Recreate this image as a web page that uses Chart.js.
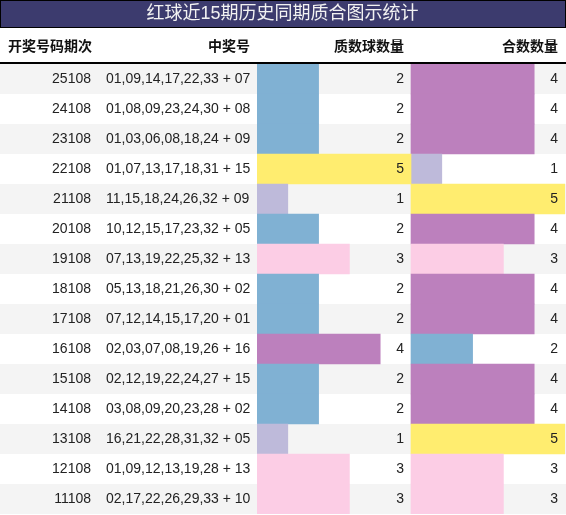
<!DOCTYPE html>
<html>
<head>
<meta charset="utf-8">
<script src="https://cdn.jsdelivr.net/npm/chart.js@4/dist/chart.umd.min.js"></script>
<style>
  html, body { margin: 0; padding: 0; background: #ffffff; }
  #wrap { width: 566px; height: 515px; position: relative; }
</style>
</head>
<body>
<div id="wrap"><canvas id="c"></canvas></div>
<script>
const titleText = '红球近15期历史同期质合图示统计';
const headers = ['开奖号码期次', '中奖号', '质数球数量', '合数数量'];
const periods = ['25108','24108','23108','22108','21108','20108','19108','18108','17108','16108','15108','14108','13108','12108','11108'];
const draws = [
  '01,09,14,17,22,33 + 07',
  '01,08,09,23,24,30 + 08',
  '01,03,06,08,18,24 + 09',
  '01,07,13,17,18,31 + 15',
  '11,15,18,24,26,32 + 09',
  '10,12,15,17,23,32 + 05',
  '07,13,19,22,25,32 + 13',
  '05,13,18,21,26,30 + 02',
  '07,12,14,15,17,20 + 01',
  '02,03,07,08,19,26 + 16',
  '02,12,19,22,24,27 + 15',
  '03,08,09,20,23,28 + 02',
  '16,21,22,28,31,32 + 05',
  '01,09,12,13,19,28 + 13',
  '02,17,22,26,29,33 + 10'
];
const primeCounts = [2,2,2,5,1,2,3,2,2,4,2,2,1,3,3];
const compositeCounts = [4,4,4,1,5,4,3,4,4,2,4,4,5,3,3];
const maxCount = 5;

const palette = {1:'#bebada', 2:'#80b1d3', 3:'#fccde5', 4:'#bc80bd', 5:'#ffed6f'};
const FONT = '"Liberation Sans", Arial, "Noto Sans CJK SC", sans-serif';

const tablePlugin = {
  id: 'tablePlugin',
  beforeDraw(chart) {
    const ctx = chart.ctx;
    const y = chart.scales.y;
    const W = chart.width;
    ctx.save();
    ctx.fillStyle = '#3c3b6e';
    ctx.fillRect(0, 0, W, 27);
    ctx.strokeStyle = '#000000';
    ctx.lineWidth = 1;
    ctx.strokeRect(0.5, 0.5, W - 1, 27);
    periods.forEach((p, i) => {
      if (i % 2 === 0) {
        const yc = y.getPixelForValue(i);
        ctx.fillStyle = '#f4f4f4';
        ctx.fillRect(0, yc - 15, W, 30);
      }
    });
    ctx.restore();
  },
  afterDatasetsDraw(chart) {
    const ctx = chart.ctx;
    const x = chart.scales.x;
    const y = chart.scales.y;
    const W = chart.width;
    ctx.save();
    ctx.fillStyle = '#000000';
    ctx.fillRect(0, 62, W, 2);
    ctx.font = 'bold 14px ' + FONT;
    ctx.fillStyle = '#111111';
    ctx.textBaseline = 'middle';
    ctx.textAlign = 'left';
    ctx.fillText(headers[0], 8, 47.5);
    ctx.textAlign = 'right';
    ctx.fillText(headers[1], 250, 47.5);
    ctx.fillText(headers[2], x.getPixelForValue(maxCount) - 7, 47.5);
    ctx.fillText(headers[3], x.getPixelForValue(maxCount * 2) - 7, 47.5);
    ctx.font = '14px ' + FONT;
    ctx.fillStyle = '#222222';
    periods.forEach((p, i) => {
      const yc = y.getPixelForValue(i) + 0.5;
      ctx.textAlign = 'right';
      ctx.fillText(p, 91, yc);
      ctx.textAlign = 'left';
      ctx.fillText(draws[i], 106, yc);
      ctx.textAlign = 'right';
      ctx.fillText(String(primeCounts[i]), x.getPixelForValue(maxCount) - 7, yc);
      ctx.fillText(String(compositeCounts[i]), x.getPixelForValue(maxCount * 2) - 7, yc);
    });
    ctx.restore();
  }
};

new Chart(document.getElementById('c'), {
  type: 'bar',
  data: {
    labels: periods,
    datasets: [
      {
        label: '质数球数量',
        data: primeCounts.map(v => [0, v]),
        backgroundColor: primeCounts.map(v => palette[v]),
        borderWidth: 0,
        barPercentage: 1,
        categoryPercentage: 1,
        grouped: false
      },
      {
        label: '合数数量',
        data: compositeCounts.map(v => [maxCount, maxCount + v]),
        backgroundColor: compositeCounts.map(v => palette[v]),
        borderWidth: 0,
        barPercentage: 1,
        categoryPercentage: 1,
        grouped: false
      }
    ]
  },
  options: {
    indexAxis: 'y',
    responsive: true,
    maintainAspectRatio: false,
    animation: false,
    layout: { padding: { left: 0, right: 1, top: 0, bottom: 1 } },
    scales: {
      x: { display: false, min: 0, max: maxCount * 2 },
      y: {
        display: true,
        grid: { display: false },
        border: { display: false },
        ticks: { display: false },
        afterFit(scale) { scale.width = 257; }
      }
    },
    plugins: {
      legend: { display: false },
      tooltip: { enabled: false },
      title: {
        display: true,
        text: titleText,
        color: '#f2f2f2',
        font: { family: FONT, size: 18, weight: 'normal' },
        padding: { top: 3, bottom: 39.4 }
      }
    }
  },
  plugins: [tablePlugin]
});
</script>
</body>
</html>
